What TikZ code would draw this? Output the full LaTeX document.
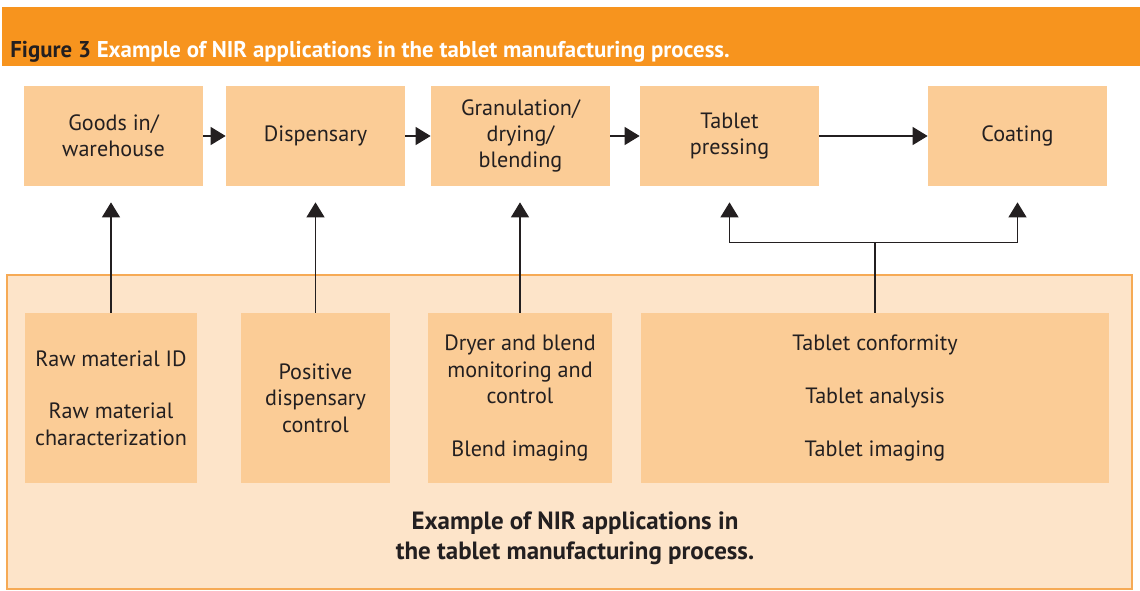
\documentclass[tikz,border=0pt]{standalone}
\usepackage{fontspec}
\setmainfont{PT Sans}
\usetikzlibrary{arrows.meta,positioning,calc}
\definecolor{bannerorange}{RGB}{247,148,30}
\definecolor{stepfill}{RGB}{251,204,150}
\definecolor{panelfill}{RGB}{253,228,201}
\definecolor{panelline}{RGB}{246,170,85}
\definecolor{ink}{RGB}{35,31,32}

\begin{document}
\begin{tikzpicture}[
  font=\fontsize{12.6}{15}\selectfont,
  box/.style={rectangle, fill=stepfill, minimum width=3.58cm, minimum height=2cm,
              inner sep=2pt, align=center, text=ink},
  app/.style={rectangle, fill=stepfill, minimum height=3.4cm, inner sep=2pt,
              align=center, text=ink},
  arr/.style={-{Triangle[length=0.3cm,width=0.36cm]}, line width=0.7pt, draw=ink},
  ln/.style={line width=0.7pt, draw=ink},
]
\useasboundingbox (0,0) rectangle (22.8,-11.8);

% ---------- heading bar ----------
\node[rectangle, fill=bannerorange, minimum width=22.76cm, minimum height=1.18cm,
      inner sep=0pt] (banner) at (11.42,-0.73) {};
\node[anchor=base west, inner sep=0pt, font=\fontsize{13}{15}\selectfont\bfseries]
      (title) at (0.2,-1.15) {\textcolor{ink}{Figure 3} \textcolor{white}{Example of NIR applications in the tablet manufacturing process.}};

% ---------- process steps ----------
\node[box] (goods) at (2.27,-2.72)  {Goods in/\\warehouse};
\node[box] (disp)  at (6.31,-2.72)  {Dispensary};
\node[box] (gran)  at (10.41,-2.72) {Granulation/\\drying/\\blending};
\node[box] (press) at (14.59,-2.72) {Tablet\\pressing};
\node[box] (coat)  at (20.35,-2.72) {Coating};

% ---------- NIR panel ----------
\node[rectangle, draw=panelline, line width=0.6pt, fill=panelfill,
      minimum width=22.5cm, minimum height=6.28cm] (panel) at (11.39,-8.64) {};
\node[app, minimum width=3.44cm] (rawm) at (2.22,-7.96)  {Raw material ID\\[15pt]Raw material\\characterization};
\node[app, minimum width=2.98cm] (posd) at (6.31,-7.96)  {Positive\\dispensary\\control};
\node[app, minimum width=3.68cm] (dryr) at (10.40,-7.96) {Dryer and blend\\monitoring and\\control\\[15pt]Blend imaging};
\node[app, minimum width=9.36cm] (tabl) at (17.50,-7.96) {Tablet conformity\\[15pt]Tablet analysis\\[15pt]Tablet imaging};
\node[align=center, text=ink, font=\fontsize{14.2}{17}\selectfont\bfseries]
      (caption) at (11.5,-10.76) {Example of NIR applications in\\the tablet manufacturing process.};

% ---------- arrows ----------
\draw[arr] (goods) -- (disp);
\draw[arr] (disp)  -- (gran);
\draw[arr] (gran)  -- (press);
\draw[arr] (press) -- (coat);
\draw[arr, shorten >=0.32cm] (rawm.north) -- (rawm.north |- goods.south);
\draw[arr, shorten >=0.32cm] (posd.north) -- (posd.north |- disp.south);
\draw[arr, shorten >=0.32cm] (dryr.north) -- (dryr.north |- gran.south);
\coordinate (split) at ([yshift=1.4cm]tabl.north);
\draw[ln] (tabl.north) -- (split);
\draw[arr, shorten >=0.32cm] (split) -| (press.south);
\draw[arr, shorten >=0.32cm] (split) -| (coat.south);
\end{tikzpicture}
\end{document}
